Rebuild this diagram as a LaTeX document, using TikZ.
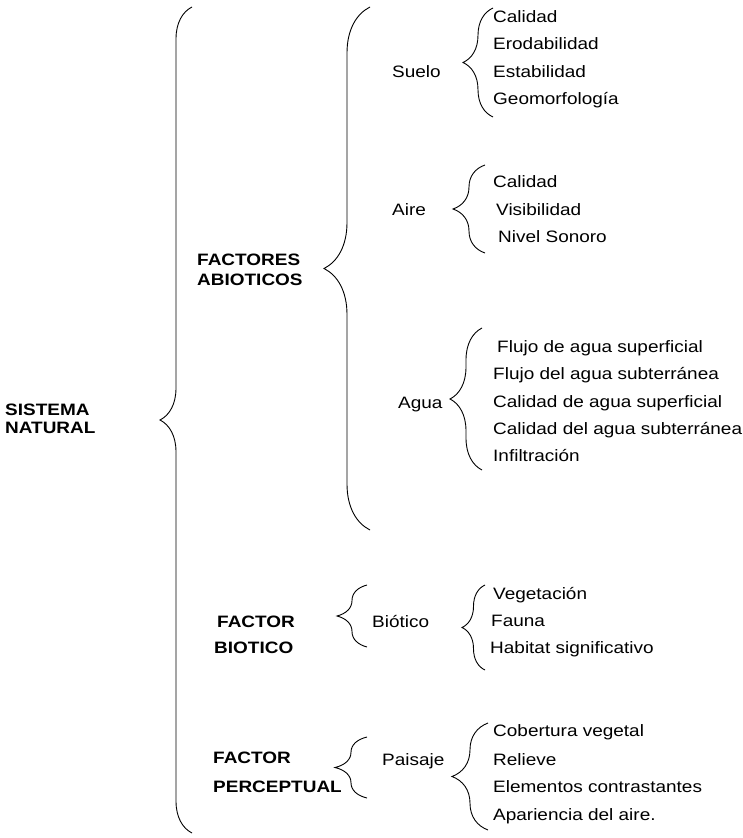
\documentclass[tikz,border=0pt]{standalone}
\usepackage{fontspec}
\setmainfont[FakeStretch=1.15]{Liberation Sans}
\usepackage{tikz}
\usetikzlibrary{decorations.pathreplacing, positioning}

\begin{document}
\begin{tikzpicture}[x=1pt, y=-1pt,
  itm/.style={anchor=mid west, inner sep=0pt, yshift=-3pt, font=\fontsize{16.5}{20}\selectfont},
  cat/.style={anchor=west, inner sep=0pt, align=left, font=\fontsize{16.5}{18}\selectfont\bfseries},
  brc/.style={decorate, decoration={brace, amplitude=#1}, line width=0.9pt},
]
\useasboundingbox (0,0) rectangle (743,838);

% Main levels
\node[cat] (sistema) at (5,419) {SISTEMA\\NATURAL};
\node[cat] (abio) at (197,270) {FACTORES\\[2pt]ABIOTICOS};
\node[cat] (bio) at (214,635) {\hspace*{3pt}FACTOR\\[8pt]BIOTICO};
\node[cat] (perc) at (213,772) {FACTOR\\[11pt]PERCEPTUAL};

% Main braces
\coordinate (sn-t) at (192,7);
\coordinate (sn-b) at (192,833);
\draw[brc=32] (sn-b) -- (sn-t);
\coordinate (ab-t) at (370,7);
\coordinate (ab-b) at (370,530);
\draw[brc=46] (ab-b) -- (ab-t);

% Suelo
\node[itm] (suelo) at (392,72) {Suelo};
\coordinate (su-t) at (493,8);
\coordinate (su-b) at (493,117);
\draw[brc=30] (su-b) -- (su-t);
\node[itm] (su1) at (493,17) {Calidad};
\node[itm] (su2) at (493,44) {Erodabilidad};
\node[itm] (su3) at (493,72) {Estabilidad};
\node[itm] (su4) at (493,99) {Geomorfología};

% Aire
\node[itm] (aire) at (392,210) {Aire};
\coordinate (ai-t) at (485,165);
\coordinate (ai-b) at (485,253);
\draw[brc=32] (ai-b) -- (ai-t);
\node[itm] (ai1) at (493,182) {Calidad};
\node[itm] (ai2) at (496,210) {Visibilidad};
\node[itm] (ai3) at (498,237) {Nivel Sonoro};

% Agua
\node[itm] (agua) at (398,403) {Agua};
\coordinate (ag-t) at (482,328);
\coordinate (ag-b) at (482,470);
\draw[brc=32] (ag-b) -- (ag-t);
\node[itm] (ag1) at (497,347) {Flujo de agua superficial};
\node[itm] (ag2) at (493,374) {Flujo del agua subterránea};
\node[itm] (ag3) at (493,402) {Calidad de agua superficial};
\node[itm] (ag4) at (493,429) {Calidad del agua subterránea};
\node[itm] (ag5) at (493,456) {Infiltración};

% Biotico
\coordinate (bi-t) at (367,585);
\coordinate (bi-b) at (367,647);
\draw[brc=30] (bi-b) -- (bi-t);
\node[itm] (biot) at (372,622) {Biótico};
\coordinate (bt-t) at (485,585);
\coordinate (bt-b) at (485,670);
\draw[brc=23] (bt-b) -- (bt-t);
\node[itm] (bt1) at (493,594) {Vegetación};
\node[itm] (bt2) at (491,621) {Fauna};
\node[itm] (bt3) at (490,648) {Habitat significativo};

% Perceptual
\coordinate (pe-t) at (367,737);
\coordinate (pe-b) at (367,798);
\draw[brc=32] (pe-b) -- (pe-t);
\node[itm] (pais) at (382,760) {Paisaje};
\coordinate (pa-t) at (488,723);
\coordinate (pa-b) at (488,830);
\draw[brc=36] (pa-b) -- (pa-t);
\node[itm] (pa1) at (493,731) {Cobertura vegetal};
\node[itm] (pa2) at (493,760) {Relieve};
\node[itm] (pa3) at (493,787) {Elementos contrastantes};
\node[itm] (pa4) at (493,815) {Apariencia del aire.};
\end{tikzpicture}
\end{document}
